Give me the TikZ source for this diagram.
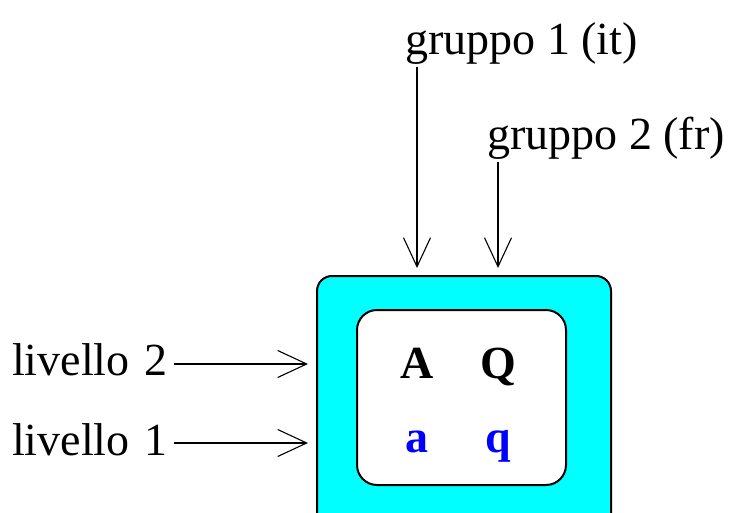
\documentclass[tikz,border=0pt]{standalone}
\usepackage{fontspec}
\setmainfont{Liberation Serif}
\usetikzlibrary{arrows.meta}
\definecolor{boxcyan}{RGB}{0,255,255}
\definecolor{charblue}{RGB}{0,0,255}
\begin{document}
\begin{tikzpicture}[x=1pt,y=-1pt,
  lbl/.style={inner sep=0pt,anchor=base,font=\fontsize{46}{50}\selectfont},
  chr/.style={inner sep=0pt,anchor=base,font=\fontsize{46}{50}\selectfont\bfseries},
  arr/.style={line width=1.1pt,-{Straight Barb[length=29pt,width=27pt,line width=1.1pt]}},
  box/.style={draw=black,line width=2pt}]
\useasboundingbox (0,0) rectangle (731,513);
\clip (0,0) rectangle (731,513);
% boxes
\draw[box,fill=boxcyan,rounded corners=15pt] (317,276) rectangle (611,530);
\node[box,fill=white,rounded corners=20pt,minimum width=209pt,minimum height=175pt,inner sep=0pt] (inner) at (461.5,397.5) {};
\coordinate (outerN1) at (417,268);
\coordinate (outerN2) at (498,268);
\coordinate (outerW2) at (308,364);
\coordinate (outerW1) at (308,443);
% characters
\node[chr] (A) at (417,378) {A};
\node[chr] (Q) at (498,378) {Q};
\node[chr,text=charblue] (a) at (417,452) {a};
\node[chr,text=charblue] (q) at (498,452) {q};
% labels
\node[lbl] (g1) at (521.5,55) {gruppo 1 (it)};
\node[lbl] (g2) at (606,150) {gruppo 2 (fr)};
\node[lbl,anchor=base west] (l2) at (12,375) {livello\hspace{3pt} 2};
\node[lbl,anchor=base west] (l1) at (12,455) {livello\hspace{3pt} 1};
% arrows
\draw[arr] (g1.south -| outerN1) ++(0,2) -- (outerN1);
\draw[arr] (g2.south -| outerN2) ++(0,2) -- (outerN2);
\draw[arr] (l2.east |- outerW2) ++(7,0) -- (outerW2);
\draw[arr] (l1.east |- outerW1) ++(7,0) -- (outerW1);
\end{tikzpicture}
\end{document}
